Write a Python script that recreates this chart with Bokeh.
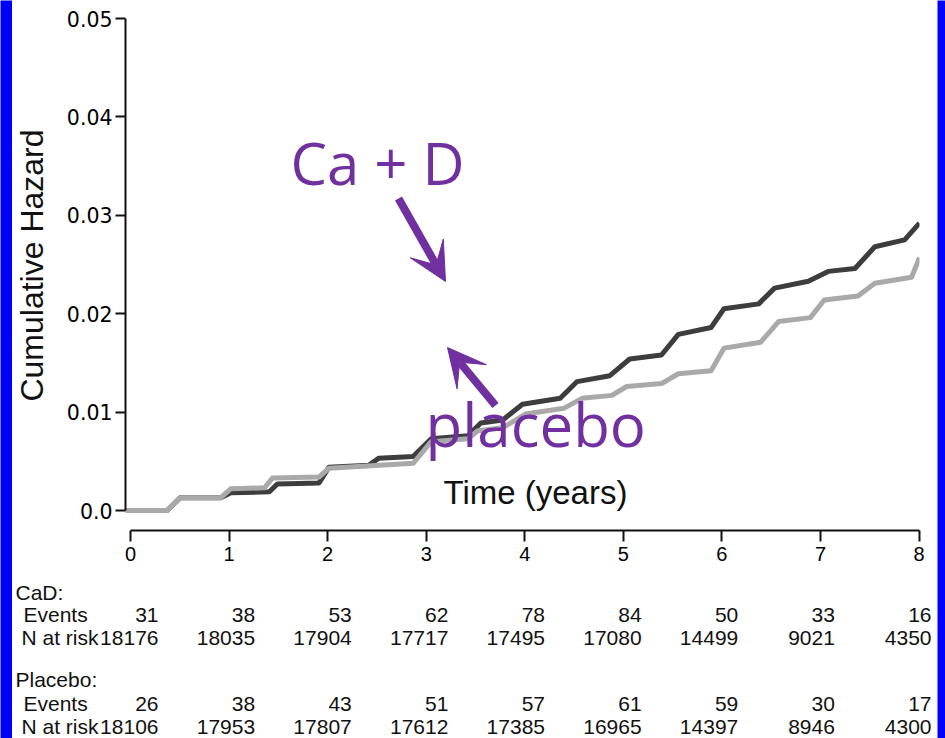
import math
from bokeh.plotting import figure
from bokeh.layouts import row, column
from bokeh.models import (Range1d, LinearAxis, FixedTicker, Label,
                          ColumnDataSource, Arrow, VeeHead)
from bokeh.core.properties import value
from bokeh.embed import file_html
from bokeh.resources import INLINE

# ---------------- data ----------------
years_cad = [0, 0.42, 0.55, 0.96, 1.06, 1.45, 1.53, 1.95, 2.05, 2.45, 2.55, 2.90,
             3.08, 3.45, 3.58, 3.80, 4.00, 4.38, 4.55, 4.88, 5.08, 5.40, 5.57,
             5.90, 6.03, 6.38, 6.54, 6.88, 7.08, 7.35, 7.55, 7.85, 8.00]
haz_cad = [0, 0, 0.0013, 0.0013, 0.0018, 0.0019, 0.0027, 0.0028, 0.0044, 0.0046,
           0.0053, 0.0055, 0.0073, 0.0076, 0.0089, 0.0092, 0.0108, 0.0114, 0.0131,
           0.0137, 0.0154, 0.0158, 0.0179, 0.0186, 0.0205, 0.0210, 0.0226, 0.0233,
           0.0243, 0.0246, 0.0268, 0.0275, 0.0292]

years_pbo = [0, 0.42, 0.55, 0.96, 1.06, 1.40, 1.48, 1.95, 2.05, 2.90, 3.08, 3.45,
             3.55, 3.80, 4.03, 4.42, 4.60, 4.90, 5.05, 5.40, 5.57, 5.90, 6.03,
             6.40, 6.58, 6.90, 7.04, 7.38, 7.55, 7.92, 8.00]
haz_pbo = [0, 0, 0.0013, 0.0013, 0.0022, 0.0023, 0.0033, 0.0034, 0.0043, 0.0048,
           0.0070, 0.0073, 0.0081, 0.0084, 0.0098, 0.0104, 0.0114, 0.0117, 0.0126,
           0.0129, 0.0139, 0.0142, 0.0165, 0.0171, 0.0192, 0.0196, 0.0214, 0.0218,
           0.0231, 0.0237, 0.0257]

table_years = [0, 1, 2, 3, 4, 5, 6, 7, 8]
cad_events = [31, 38, 53, 62, 78, 84, 50, 33, 16]
cad_at_risk = [18176, 18035, 17904, 17717, 17495, 17080, 14499, 9021, 4350]
pbo_events = [26, 38, 43, 51, 57, 61, 59, 30, 17]
pbo_at_risk = [18106, 17953, 17807, 17612, 17385, 16965, 14397, 8946, 4300]

y_ticks = [0, 0.01, 0.02, 0.03, 0.04, 0.05]
y_tick_labels = ["0.0", "0.01", "0.02", "0.03", "0.04", "0.05"]
x_ticks = [0, 1, 2, 3, 4, 5, 6, 7, 8]

# ---------------- layout constants (page pixels) ----------------
PAGE_W, PAGE_H = 945, 738
BL, BT, BR = 12, 4, 8            # blue frame widths (left, top, right)
INNER_W = PAGE_W - BL - BR       # 925
YLAB_W = 44                      # strip holding the y-axis title
SPLIT = 580                      # page y where the risk table starts
FRAME_L, FRAME_R = 125, 919
FRAME_T, FRAME_B = 17, 530
Y0_PX, Y05_PX = 510, 18

px_per_h = (Y0_PX - Y05_PX) / 0.05
y_start = -(FRAME_B - Y0_PX) / px_per_h
y_end = 0.05 + (Y05_PX - FRAME_T) / px_per_h

PURPLE = "#7030A0"
DARK = "#3d3d3d"
LIGHT = "#a9a9a9"
BLUE = "#0000ff"
INK = "#111111"


def no_align(fig):
    if "frame_align" in fig.properties():
        fig.frame_align = False


def bare(w, h, xr, yr, fill):
    s = figure(width=w, height=h, output_backend="svg", toolbar_location=None,
               title=None, x_axis_location=None, y_axis_location=None,
               min_border_left=0, min_border_right=0, min_border_top=0,
               min_border_bottom=0, x_range=xr, y_range=yr)
    s.background_fill_color = fill
    s.border_fill_color = fill
    s.outline_line_color = None
    s.xgrid.visible = False
    s.ygrid.visible = False
    no_align(s)
    return s


def strip(w, h):
    return bare(w, h, Range1d(0, 1), Range1d(0, 1), BLUE)


# ---------------- main chart ----------------
H1 = SPLIT - BT
P_LEFT = BL + YLAB_W
p = figure(width=INNER_W - YLAB_W, height=H1, output_backend="svg", toolbar_location=None,
           title=None, x_range=Range1d(0, 8), y_range=Range1d(y_start, y_end),
           x_axis_location=None, y_axis_location=None,
           min_border_left=FRAME_L - P_LEFT,
           min_border_right=(BL + INNER_W) - FRAME_R,
           min_border_top=FRAME_T - BT,
           min_border_bottom=SPLIT - FRAME_B)
p.outline_line_color = None
p.xgrid.visible = False
p.ygrid.visible = False
p.background_fill_color = "white"
p.border_fill_color = "white"
no_align(p)


def lin_range(px0, px8, left, right):
    per = (px8 - px0) / 8.0
    return Range1d((left - px0) / per, (right - px0) / per)


p.extra_x_ranges = {"axis": lin_range(130, 918.5, FRAME_L, FRAME_R)}

ay = LinearAxis(ticker=FixedTicker(ticks=y_ticks), bounds=(0, 0.05),
                major_label_overrides=dict(zip(y_ticks, y_tick_labels)))
ay.axis_line_width = 2
ay.axis_line_color = INK
ay.major_tick_line_width = 2
ay.major_tick_line_color = INK
ay.major_tick_out = 10
ay.major_tick_in = 0
ay.minor_tick_out = 0
ay.minor_tick_in = 0
ay.major_label_standoff = 3
ay.major_label_text_font = "DejaVu Sans"
ay.major_label_text_font_size = "20.5px"
ay.major_label_text_color = "#000000"
p.add_layout(ay, "left")

ax = LinearAxis(x_range_name="axis", ticker=FixedTicker(ticks=x_ticks), bounds=(0, 8))
ax.axis_line_width = 2
ax.axis_line_color = INK
ax.major_tick_line_width = 2
ax.major_tick_line_color = INK
ax.major_tick_out = 11
ax.major_tick_in = 0
ax.minor_tick_out = 0
ax.minor_tick_in = 0
ax.major_label_standoff = 5
ax.major_label_text_font = "Liberation Sans"
ax.major_label_text_font_size = "20px"
ax.major_label_text_color = "#000000"
p.add_layout(ax, "below")

p.line(years_cad, haz_cad, line_color=DARK, line_width=5, line_join="round")
p.line(years_pbo, haz_pbo, line_color=LIGHT, line_width=5, line_join="round")


def tx(px):
    return (px - FRAME_L) / ((FRAME_R - FRAME_L) / 8.0)


def hy(py):
    return (Y0_PX - py) / px_per_h


p.add_layout(Label(x=tx(290), y=hy(162), text="Ca + D", text_font="Open Sans",
                   text_font_size="58px", text_color=PURPLE,
                   text_baseline="middle", text_align="left"))
p.add_layout(Label(x=tx(425), y=hy(423), text="placebo", text_font="Open Sans",
                   text_font_size="60px", text_color=PURPLE,
                   text_baseline="middle", text_align="left"))
p.add_layout(Label(x=tx(443), y=hy(492), text="Time (years)",
                   text_font="Liberation Sans", text_font_size="33px",
                   text_color=INK, text_baseline="middle", text_align="left"))

p.add_layout(Arrow(end=VeeHead(size=38, fill_color=PURPLE, line_color=PURPLE),
                   x_start=tx(398), y_start=hy(198), x_end=tx(445), y_end=hy(281),
                   line_color=PURPLE, line_width=8))
p.add_layout(Arrow(end=VeeHead(size=38, fill_color=PURPLE, line_color=PURPLE),
                   x_start=tx(495), y_start=hy(405), x_end=tx(447), y_end=hy(347),
                   line_color=PURPLE, line_width=8))

# ---------------- y-axis title strip ----------------
ylab = bare(YLAB_W, H1, Range1d(BL, P_LEFT), Range1d(SPLIT, BT), "white")
ylab.text(x=[31.5], y=[265], text=["Cumulative Hazard"], angle=math.pi / 2,
          text_font=value("Liberation Sans"), text_font_size=value("32px"),
          text_color=INK, text_align="center", text_baseline="middle")

# ---------------- risk table ----------------
H2 = PAGE_H - SPLIT
t = bare(INNER_W, H2, Range1d(BL, BL + INNER_W), Range1d(PAGE_H, SPLIT), "white")
t.extra_x_ranges = {"risk": lin_range(158, 931, BL, BL + INNER_W)}

TXT = dict(text_font=value("Liberation Sans"), text_font_size=value("21px"),
           text_color=INK, text_baseline="middle")

row_y = {"cad_head": 592, "cad_ev": 614, "cad_risk": 637,
         "pbo_head": 679, "pbo_ev": 703, "pbo_risk": 726}

head_src = ColumnDataSource(dict(
    x=[15, 23, 21, 15, 23, 21],
    y=[row_y[k] for k in ["cad_head", "cad_ev", "cad_risk", "pbo_head", "pbo_ev", "pbo_risk"]],
    t=["CaD:", "Events", "N at risk", "Placebo:", "Events", "N at risk"]))
t.text(x="x", y="y", text="t", source=head_src, text_align="left", **TXT)

for values, key in [(cad_events, "cad_ev"), (cad_at_risk, "cad_risk"),
                    (pbo_events, "pbo_ev"), (pbo_at_risk, "pbo_risk")]:
    src = ColumnDataSource(dict(x=table_years, y=[row_y[key]] * len(values),
                                t=[str(v) for v in values]))
    t.text(x="x", y="y", text="t", source=src, x_range_name="risk",
           text_align="right", **TXT)

layout = row(strip(BL, PAGE_H),
             column(strip(INNER_W, BT), row(ylab, p, spacing=0), t, spacing=0),
             strip(BR, PAGE_H), spacing=0)

open("out.html", "w").write(file_html(layout, INLINE))
